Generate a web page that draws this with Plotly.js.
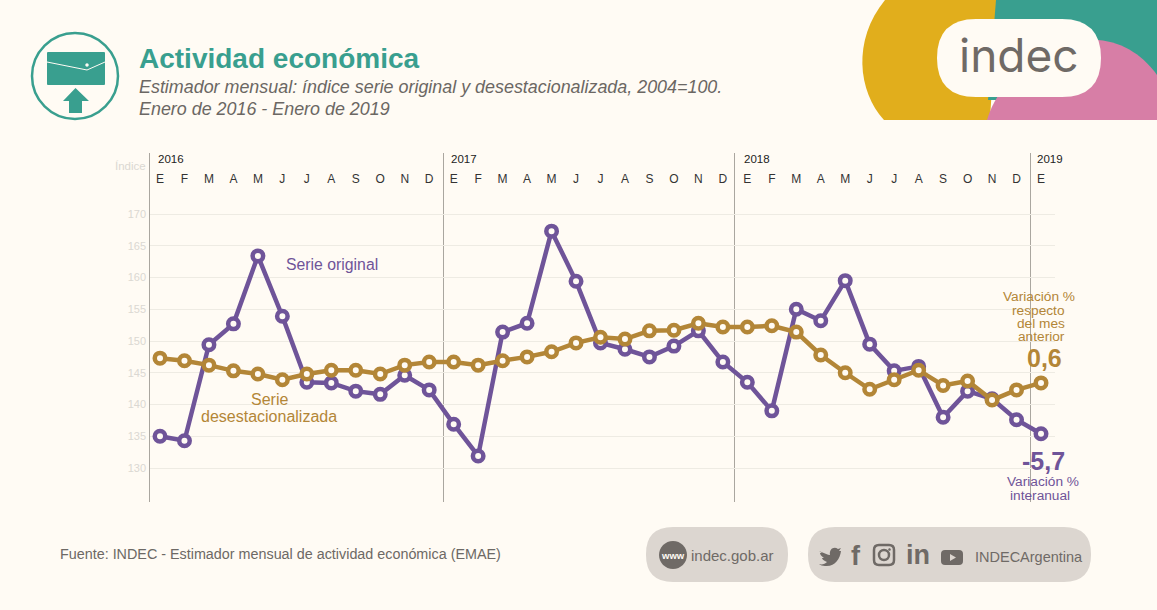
<!DOCTYPE html>
<html><head><meta charset="utf-8">
<script src="https://cdn.plot.ly/plotly-3.0.1.min.js"></script>
<style>html,body{margin:0;padding:0;background:#fffbf4;overflow:hidden}</style></head>
<body><div id="c" style="width:1157px;height:610px"></div>
<script>
const monthLetters = ["E","F","M","A","M","J","J","A","S","O","N","D","E","F","M","A","M","J","J","A","S","O","N","D","E","F","M","A","M","J","J","A","S","O","N","D","E"];
const yearLabels = ["2016","2017","2018","2019"];
const yTicks = [130,135,140,145,150,155,160,165,170];
const serieOriginal = [135.0,134.3,149.4,152.7,163.4,153.9,143.5,143.4,142.1,141.6,144.6,142.3,
  136.9,131.9,151.4,152.8,167.3,159.4,149.7,148.7,147.5,149.2,151.6,146.7,
  143.5,139.0,155.0,153.2,159.5,149.5,145.3,146.0,138.0,142.1,140.9,137.6,135.4];
const serieDesest = [147.3,146.9,146.2,145.3,144.8,143.9,144.8,145.4,145.4,144.8,146.2,146.7,
  146.7,146.2,146.9,147.5,148.3,149.7,150.6,150.3,151.6,151.7,152.8,152.2,
  152.2,152.4,151.4,147.8,145.0,142.4,143.9,145.4,143.0,143.7,140.7,142.3,143.4];

const W=1157,H=610;
const PX=x=>x/W, PY=y=>1-y/H;
const bg='#fffbf4', purple='#6f5499', gold='#b38637', teal='#399f8f', yellow='#e1ae1c', pink='#d77ea6', pill='#dcd6d0', dark='#6f6a66';
function P(cmds){return cmds.map(c=>typeof c==='string'?c:(PX(c[0])+','+PY(c[1]))).join(' ');}
function deco(path,fill,line,lw){return {type:'path',xref:'paper',yref:'paper',path:P(path),fillcolor:fill||'rgba(0,0,0,0)',line:{color:line||'rgba(0,0,0,0)',width:lw||0},layer:'below'};}
function rrect(x0,y0,x1,y1,r){return ['M',[x0+r,y0],'L',[x1-r,y0],'Q',[x1,y0],[x1,y0+r],'L',[x1,y1-r],'Q',[x1,y1],[x1-r,y1],'L',[x0+r,y1],'Q',[x0,y1],[x0,y1-r],'L',[x0,y0+r],'Q',[x0,y0],[x0+r,y0],'Z'];}
function circ(cx,cy,r){const k=r*0.5523;return ['M',[cx-r,cy],'C',[cx-r,cy-k],[cx-k,cy-r],[cx,cy-r],'C',[cx+k,cy-r],[cx+r,cy-k],[cx+r,cy],'C',[cx+r,cy+k],[cx+k,cy+r],[cx,cy+r],'C',[cx-k,cy+r],[cx-r,cy+k],[cx-r,cy],'Z'];}

const yBottomPx=502, yTopPx=188, y170=214, y130=468;
const perPx=(170-130)/(y130-y170);
const yr=[130-(yBottomPx-y130)*perPx,170+(y170-yTopPx)*perPx];
const x0=160,x1=1041,dx=(x1-x0)/36,xL=150,xR=1055;
const xr=[(xL-x0)/dx,(xR-x0)/dx];
const xv=monthLetters.map((_,i)=>i);
const yearIdx=[0,12,24,36];
const sepPx=[149.5,443.5,734.5,1030.5];

const shapes=[
 deco(['M',[885,0],'C',[852,40],[858,92],[884,120],'L',[990,120],'L',[997,0],'Z'],yellow),
 deco(['M',[996,0],'L',[1157,0],'L',[1157,100],'L',[988,100],'Z'],teal),
 deco(['M',[987,120],'C',[1000,75],[1050,38],[1098,40],'C',[1125,42],[1145,58],[1157,75],'L',[1157,120],'Z'],pink),
 deco(rrect(937,19,1101,97,39),bg),
 deco(circ(75,76,43),null,teal,2.5),
 deco(rrect(47,52,105,85,1),teal),
 deco(['M',[47,62],'L',[87,70],'L',[105,62]],null,bg,1),
 deco(circ(87,65,1.7),bg),
 deco(['M',[75.5,88],'L',[89,101],'L',[82,101],'L',[82,113],'L',[69,113],'L',[69,101],'L',[63,101],'Z'],teal),
 deco(rrect(646,527,788,582,27),pill),
 deco(rrect(808,527,1091,582,27),pill),
 deco(circ(673,555,14),dark),
 deco(['M',[819,551],'C',[824,553],[828,555],[830,555],'C',[829,549],[834,546],[838,549],'L',[841,548],'L',[839,551],'L',[841,551],'C',[840,559],[835,567],[825,566],'C',[823,566],[820,565],[819,564],'C',[822,565],[825,564],[827,562],'C',[824,561],[822,559],[822,558],'L',[824,558],'C',[821,556],[820,554],[820,553],'L',[822,553],'Z'],dark),
 deco(rrect(874,545,894,565,5),null,dark,2.5),
 deco(circ(884,555,5),null,dark,2.5),
 deco(circ(889.5,549.5,1.3),dark),
 deco(rrect(941,550,963,565,4),dark),
 deco(['M',[950,554],'L',[956,557.5],'L',[950,561],'Z'],pill)
];
sepPx.forEach(v=>shapes.push({type:'line',xref:'paper',yref:'paper',x0:PX(v),x1:PX(v),y0:PY(502),y1:PY(153),line:{color:'#aaa69f',width:1},layer:'below'}));

function T(x,y,text,size,color,o){return Object.assign({xref:'paper',yref:'paper',x:PX(x-2),y:PY(y),text,showarrow:false,xanchor:'left',yanchor:'middle',align:'left',font:{family:'Liberation Sans',size,color}},o||{});}
function C(x,y,text,size,color,family){return {xref:'paper',yref:'paper',x:PX(x),y:PY(y),text,showarrow:false,xanchor:'center',yanchor:'middle',font:{family:family||'Liberation Sans',size,color}};}
const ff='Liberation Sans Narrow, Liberation Sans';
const ann=[
 T(139,58,'<b>Actividad económica</b>',28,teal),
 T(139,87,'<i>Estimador mensual: índice serie original y desestacionalizada, 2004=100.</i>',17.9,'#6b6763'),
 T(139,109,'<i>Enero de 2016 - Enero de 2019</i>',17.9,'#6b6763'),
 C(1019,55,'indec',46,dark,'Inter'),
 T(115,166,'Índice',11.5,'#dbd8d2'),
 T(286,265,'Serie original',15.8,purple),
 C(269,400,'Serie',16,gold),
 C(269,416,'desestacionalizada',16,gold),
 C(1039,297,'Variación %',13.7,gold),
 C(1038,310,'respecto',13.7,gold),
 C(1041,323,'del mes',13.7,gold),
 C(1041,336,'anterior',13.7,gold),
 C(1044,358,'<b>0,6</b>',25,gold,ff),
 C(1043,461,'<b>-5,7</b>',25,purple,ff),
 C(1043,481,'Variación %',13.7,purple),
 C(1040,495,'interanual',13.7,purple),
 T(60,554,'Fuente: INDEC - Estimador mensual de actividad económica (EMAE)',14.35,'#6d6965'),
 T(691,555,'indec.gob.ar',15,dark),
 C(673,555,'<b>www</b>',9.5,bg),
 T(851,556,'<b>f</b>',27,dark),
 T(906,555,'<b>in</b>',27,dark),
 T(975,557,'INDECArgentina',14.5,dark)
];
yearIdx.forEach((v,i)=>ann.push({xref:'x',yref:'paper',x:v,y:PY(159),text:yearLabels[i],showarrow:false,xanchor:'center',yanchor:'middle',xshift:i==0?11:(i==3?9:10),font:{family:'Liberation Sans',size:11.5,color:'#222'}}));

const mk=(c)=>({size:10.5,color:bg,line:{color:c,width:4.5}});
const traces=[
 {x:xv,y:serieOriginal,name:'Serie original',type:'scatter',mode:'lines+markers',line:{color:purple,width:4.5},marker:mk(purple),cliponaxis:false},
 {x:xv,y:serieDesest,name:'Serie desestacionalizada',type:'scatter',mode:'lines+markers',line:{color:gold,width:4.5},marker:mk(gold),cliponaxis:false}
];
const layout={
 width:W,height:H,margin:{l:0,r:0,t:0,b:0},paper_bgcolor:bg,plot_bgcolor:'rgba(0,0,0,0)',showlegend:false,
 xaxis:{domain:[PX(xL),PX(xR)],range:xr,side:'top',anchor:'y',tickmode:'array',tickvals:xv,ticktext:monthLetters,showgrid:false,zeroline:false,showline:false,ticks:'',tickangle:0,tickfont:{family:'Liberation Sans',size:12,color:'#333'},ticklabelstandoff:2,automargin:false},
 yaxis:{domain:[PY(yBottomPx),PY(yTopPx)],range:yr,tickmode:'array',tickvals:yTicks,showgrid:true,gridcolor:'#eeebe3',gridwidth:1,griddash:'solid',zeroline:false,showline:false,ticks:'',tickfont:{family:'Liberation Sans',size:11,color:'#dbd8d2'},ticklabelstandoff:3,automargin:false},
 shapes,annotations:ann
};
Plotly.newPlot('c',traces,layout,{staticPlot:true,displayModeBar:false});
</script></body></html>
